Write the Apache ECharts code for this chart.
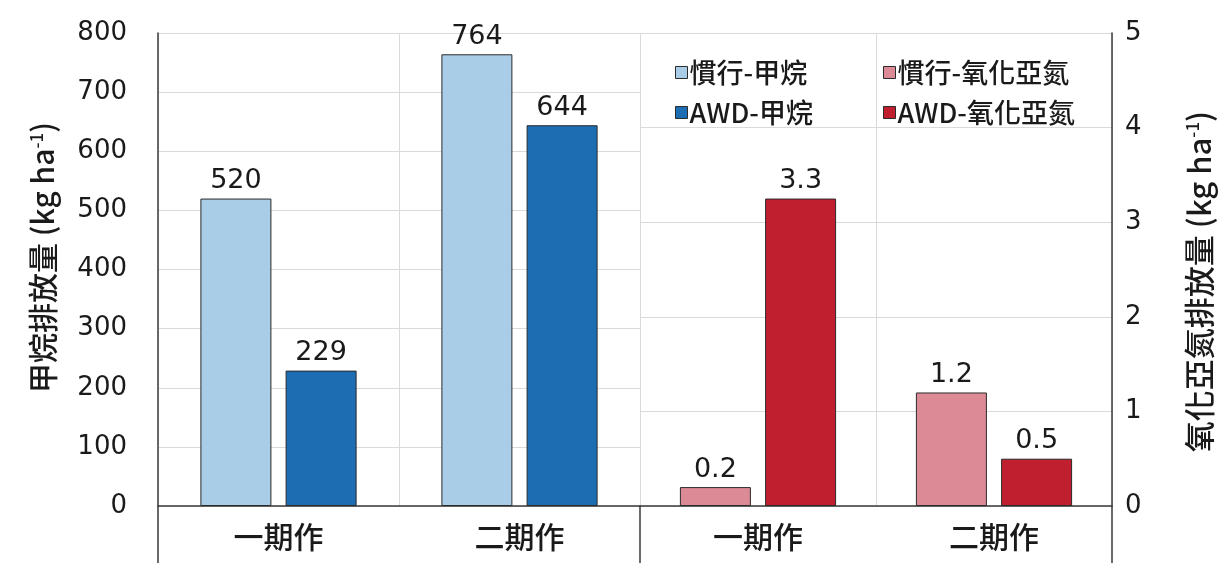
<!DOCTYPE html>
<html>
<head>
<meta charset="utf-8">
<script src="https://cdn.jsdelivr.net/npm/echarts@6/dist/echarts.min.js"></script>
<style>
html,body{margin:0;padding:0;background:#ffffff;}
#chart{width:1227px;height:563px;}
</style>
</head>
<body>
<div id="chart"></div>
<script>
// ---- data ----
const categories = ['一期作', '二期作'];
const ch4Conv = [520, 764];      // 慣行-甲烷 (kg ha-1)
const ch4AWD = [229, 644];       // AWD-甲烷
const n2oConv = [0.2, 1.2];      // 慣行-氧化亞氮
const n2oAWD = [3.25, 0.5];      // AWD-氧化亞氮
const seriesNames = ['慣行-甲烷', 'AWD-甲烷', '慣行-氧化亞氮', 'AWD-氧化亞氮'];
const leftAxisName = '甲烷排放量 (kg ha{s|-1})';
const rightAxisName = '氧化亞氮排放量 (kg ha{s|-1})';

const CJK = '"Noto Sans CJK TC", "Noto Sans", sans-serif';
const NUM = '"DejaVu Sans", "Noto Sans CJK TC", sans-serif';
const TXT = '#1a1a1a';
const GRIDC = '#dadada';
const AXC = '#3a3a3a';

const chart = echarts.init(document.getElementById('chart'), null, {renderer: 'canvas'});

function catAxis(gi) {
  return {
    type: 'category', gridIndex: gi, data: categories,
    axisLine: {show: true, lineStyle: {color: AXC, width: 1.5}},
    axisTick: {show: false},
    splitLine: {show: true, lineStyle: {color: GRIDC, width: 1}},
    axisLabel: {fontFamily: CJK, fontSize: 30, color: TXT, margin: 16, fontWeight: 500}
  };
}
function sepAxis(gi) {
  return {
    type: 'category', gridIndex: gi, data: [''], position: 'bottom',
    axisLine: {show: false},
    axisTick: {show: true, length: 57, lineStyle: {color: AXC, width: 1.5}},
    axisLabel: {show: false},
    splitLine: {show: false}
  };
}
const barBorder = {borderColor: '#2b2b2b', borderWidth: 1};
function labelCfg(dec) {
  return {
    show: true, position: 'top', distance: 4,
    fontFamily: NUM, fontSize: 27, color: TXT,
    formatter: p => p.value.toFixed(dec)
  };
}
function legendCfg(names, left) {
  return {
    data: names, orient: 'vertical',
    left: left, top: 54, itemGap: 13, itemWidth: 12, itemHeight: 12,
    icon: 'rect',
    itemStyle: {borderColor: '#2b2b2b', borderWidth: 1},
    textStyle: {fontFamily: CJK, fontSize: 27, color: TXT, fontWeight: 500, padding: [0, 0, 0, -3]}
  };
}

const option = {
  backgroundColor: '#ffffff',
  animation: false,
  grid: [
    {left: 158, right: 587, top: 33, bottom: 57},
    {left: 640, right: 115, top: 33, bottom: 57}
  ],
  legend: [
    legendCfg([seriesNames[0], seriesNames[1]], 670),
    legendCfg([seriesNames[2], seriesNames[3]], 878)
  ],
  xAxis: [catAxis(0), sepAxis(0), catAxis(1), sepAxis(1)],
  yAxis: [
    {
      type: 'value', gridIndex: 0, position: 'left', min: 0, max: 800, interval: 100,
      axisLine: {show: true, lineStyle: {color: AXC, width: 1.5}},
      axisTick: {show: false},
      splitLine: {show: true, lineStyle: {color: GRIDC, width: 1}},
      axisLabel: {fontFamily: NUM, fontSize: 26, color: TXT, margin: 31},
      name: leftAxisName, nameLocation: 'middle', nameGap: 100, nameRotate: 90,
      nameTextStyle: {fontFamily: CJK, fontSize: 30, color: TXT, fontWeight: 500,
        padding: [0, 0, 0, 24],
        rich: {s: {fontFamily: CJK, fontSize: 17, color: TXT, verticalAlign: 'top'}}}
    },
    {
      type: 'value', gridIndex: 1, position: 'right', min: 0, max: 5, interval: 1,
      axisLine: {show: true, lineStyle: {color: AXC, width: 1.5}},
      axisTick: {show: false},
      splitLine: {show: true, lineStyle: {color: GRIDC, width: 1}},
      axisLabel: {fontFamily: NUM, fontSize: 26, color: TXT, margin: 13},
      name: rightAxisName, nameLocation: 'middle', nameGap: 72, nameRotate: 90,
      nameTextStyle: {fontFamily: CJK, fontSize: 31, color: TXT, fontWeight: 500,
        padding: [0, 24, 0, 0],
        rich: {s: {fontFamily: CJK, fontSize: 17, color: TXT, verticalAlign: 'top'}}}
    }
  ],
  series: [
    {name: seriesNames[0], type: 'bar', xAxisIndex: 0, yAxisIndex: 0, data: ch4Conv,
     barWidth: 71, barGap: '20%', itemStyle: Object.assign({color: '#aacde7'}, barBorder), label: labelCfg(0)},
    {name: seriesNames[1], type: 'bar', xAxisIndex: 0, yAxisIndex: 0, data: ch4AWD,
     barWidth: 71, barGap: '20%', itemStyle: Object.assign({color: '#1d6db3'}, barBorder), label: labelCfg(0)},
    {name: seriesNames[2], type: 'bar', xAxisIndex: 2, yAxisIndex: 1, data: n2oConv,
     barWidth: 71, barGap: '20%', itemStyle: Object.assign({color: '#dc8a95'}, barBorder), label: labelCfg(1)},
    {name: seriesNames[3], type: 'bar', xAxisIndex: 2, yAxisIndex: 1, data: n2oAWD,
     barWidth: 71, barGap: '20%', itemStyle: Object.assign({color: '#bf1f2e'}, barBorder), label: labelCfg(1)}
  ]
};
chart.setOption(option);
</script>
</body>
</html>
